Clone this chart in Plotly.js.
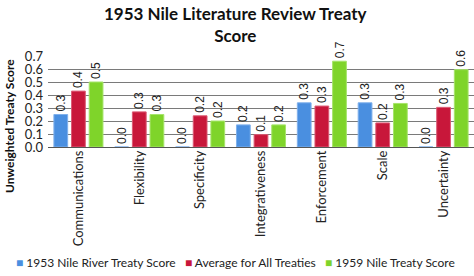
<!DOCTYPE html>
<html>
<head>
<meta charset="utf-8">
<script src="https://cdn.plot.ly/plotly-3.0.1.min.js"></script>
<style>
  html, body { margin: 0; padding: 0; background: #fff; }
  #grafico { width: 474px; height: 276px; }
</style>
</head>
<body>
<div id="grafico"></div>
<script>
// categorias y puntajes
const categorias = ["Communications", "Flexibility", "Specificity", "Integrativeness", "Enforcement", "Scale", "Uncertainty"];
const tratado1953 = [0.25, 0, 0, 0.17, 0.34, 0.34, 0];
const promedio = [0.43, 0.27, 0.24, 0.095, 0.315, 0.185, 0.305];
const tratado1959 = [0.50, 0.25, 0.20, 0.17, 0.66, 0.335, 0.595];
const nombres = ["1953 Nile River Treaty Score", "Average for All Treaties", "1959 Nile Treaty Score"];
const colores = ["#4a8fe0", "#c8173a", "#7fd42a"];
const bordes = ["#7fb0ec", "#dc5a74", "#a6e46a"];

const series = [tratado1953, promedio, tratado1959];
const fuente = "Lato, Open Sans, sans-serif";

const datos = series.map(function(vals, i){
    return {
        x: categorias,
        y: vals,
        name: nombres[i],
        type: "bar",
        marker: {color: colores[i], line: {color: bordes[i], width: 1}},
        texttemplate: "%{y:.1f}",
        textposition: "outside",
        textangle: -90,
        constraintext: "none",
        cliponaxis: false,
        textfont: {family: "Liberation Sans, Arial", size: 12, color: "#222"}
    };
});

// leyenda armada como una sola linea de texto (no cabe con la leyenda normal)
const leyenda = nombres.map(function(n, i){
    return "<span style='color:" + colores[i] + "'>■</span> " + n;
}).join("   ");

const layout = {
    width: 474,
    height: 276,
    margin: {l: 48, r: 0, t: 56, b: 129},
    paper_bgcolor: "#fff",
    plot_bgcolor: "#fff",
    bargap: 0.13,
    bargroupgap: 0.22,
    showlegend: false,
    xaxis: {
        tickangle: -90,
        tickfont: {family: fuente, size: 13, color: "#222"},
        showline: false,
        ticks: "",
        showgrid: false,
        automargin: false
    },
    yaxis: {
        range: [0, 0.7],
        dtick: 0.1,
        tickformat: ".1f",
        showgrid: true,
        gridcolor: "#7a7a7a",
        gridwidth: 1,
        zeroline: true,
        zerolinecolor: "#555",
        zerolinewidth: 1,
        tickfont: {family: fuente, size: 13, color: "#222"},
        ticklen: 0,
        ticklabelstandoff: 4,
        automargin: false
    },
    annotations: [
        {
            text: "<b>1953 Nile Literature Review Treaty<br>Score</b>",
            xref: "paper", yref: "paper", x: 0.44, y: 1.6,
            xanchor: "center", yanchor: "top", showarrow: false,
            font: {family: fuente, size: 17, color: "#111"}
        },
        {
            text: "<b>Unweighted Treaty Score</b>",
            xref: "paper", yref: "paper",
            x: -0.092, y: 0.23,
            xanchor: "center", yanchor: "middle",
            textangle: -90, showarrow: false,
            font: {family: fuente, size: 12, color: "#111"}
        },
        {
            text: leyenda,
            xref: "paper", yref: "paper",
            x: 0.44, y: -1.267,
            xanchor: "center", yanchor: "middle", showarrow: false,
            font: {family: fuente, size: 12, color: "#222"}
        }
    ]
};

Plotly.newPlot("grafico", datos, layout, {displayModeBar: false, staticPlot: true});
</script>
</body>
</html>
